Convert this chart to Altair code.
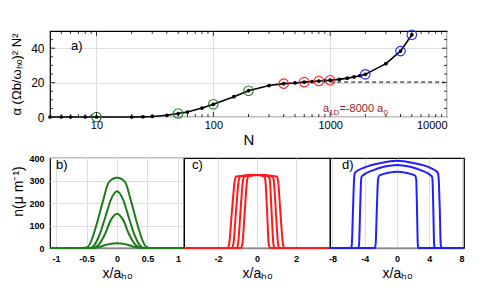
import altair as alt
import pandas as pd

# ---------------- panel a data ----------------
N_line = [4, 5, 6, 8, 10, 20, 25, 30, 40, 50, 60, 80, 100, 150, 200, 300, 400, 500,
          600, 700, 800, 900, 1000, 1200, 1400, 1600, 1800, 2000, 3000, 4000, 5000]
V_line = [0, 0, 0, 0, 0, 0, 0.1, 0.3, 1.0, 2.0, 2.9, 5.2, 7.4, 11.8, 15.3, 18.3, 19.4, 19.8,
          20.3, 20.6, 20.9, 21.1, 21.4, 21.9, 22.6, 23.3, 24.0, 24.8, 31.0, 38.3, 47.8]
N_green = [10, 50, 100, 200]
V_green = [0.0, 2.0, 7.4, 15.3]
N_red = [400, 600, 800, 1000]
V_red = [19.4, 20.3, 20.9, 21.4]
N_blue = [2000, 4000, 5000]
V_blue = [24.8, 38.3, 47.8]
N_dash = [1000, 9500]
V_dash = [20.3, 20.3]
a_xticks = [10, 100, 1000, 10000]
a_yticks = [0, 20, 40]
a_minor_x = [5, 6, 7, 8, 9, 20, 30, 40, 50, 60, 70, 80, 90, 200, 300, 400, 500, 600, 700,
             800, 900, 2000, 3000, 4000, 5000, 6000, 7000, 8000, 9000]
a_major_x = [10, 100, 1000]
a_minor_y = [5, 10, 15, 25, 30, 35, 45]
a_major_y = [20, 40]

# ---------------- panel b data (green) ----------------
b1_x = [-1.1, -0.55, -0.48, -0.41, -0.34, -0.235, -0.13, 0, 0.13, 0.235, 0.34, 0.41, 0.48, 0.55, 1.1]
b1_y = [0, 0, 5, 40, 100, 204, 294, 312, 294, 204, 100, 40, 5, 0, 0]
b2_x = [-1.1, -0.45, -0.38, -0.3, -0.2, -0.1, 0, 0.1, 0.2, 0.3, 0.38, 0.45, 1.1]
b2_y = [0, 0, 10, 50, 130, 215, 252, 215, 130, 50, 10, 0, 0]
b3_x = [-1.1, -0.4, -0.3, -0.2, -0.1, 0, 0.1, 0.2, 0.3, 0.4, 1.1]
b3_y = [0, 0, 15, 60, 125, 152, 125, 60, 15, 0, 0]
b4_x = [-1.1, -0.4, -0.3, -0.2, -0.1, 0, 0.1, 0.2, 0.3, 0.4, 1.1]
b4_y = [0, 0, 4, 12, 19, 21, 19, 12, 4, 0, 0]

# ---------------- panel c data (red) ----------------
c_y = [0, 0, 20, 160, 300, 318, 324, 318, 300, 160, 20, 0, 0]
c1_x = [-3.75, -1.50, -1.43, -1.29, -1.14, -1.07, 0, 1.02, 1.08, 1.20, 1.33, 1.39, 3.75]
c2_x = [-3.75, -1.28, -1.21, -1.08, -0.94, -0.87, 0, 0.80, 0.86, 0.97, 1.08, 1.14, 3.75]
c3_x = [-3.75, -1.04, -0.97, -0.85, -0.72, -0.65, 0, 0.60, 0.66, 0.75, 0.84, 0.90, 3.75]
c4_x = [-3.75, -0.82, -0.75, -0.63, -0.51, -0.44, 0, 0.37, 0.43, 0.52, 0.60, 0.66, 3.75]

# ---------------- panel d data (blue) ----------------
d1_x = [-8.3, -5.7, -5.6, -5.45, -5.3, -5.2, -4, -2, 0, 2, 4, 5.05, 5.15, 5.3, 5.42, 5.52, 8.3]
d1_y = [0, 0, 15, 170, 315, 335, 358, 378, 388, 378, 358, 335, 315, 170, 15, 0, 0]
d2_x = [-8.3, -4.8, -4.7, -4.57, -4.45, -4.37, -3, -1.5, 0, 1.5, 3, 4.33, 4.4, 4.5, 4.6, 4.68, 8.3]
d2_y = [0, 0, 15, 170, 300, 318, 345, 362, 369, 362, 345, 318, 300, 170, 15, 0, 0]
d3_x = [-8.3, -2.75, -2.65, -2.5, -2.35, -2.2, -1, 0, 1, 2.25, 2.38, 2.48, 2.58, 2.66, 8.3]
d3_y = [0, 0, 15, 170, 305, 322, 335, 339, 335, 322, 305, 170, 15, 0, 0]

FONT = "Liberation Sans"
GREEN = "#1e7b1e"
RED = "#ff1a1a"
BLUE = "#1f1fff"
MINUS_FIX = "replace(datum.label, '\u2212', '-')"

# ---------------- panel a ----------------
W_A, H_A = 397, 86
xs = alt.Scale(type="log", domain=[4, 10000], nice=False)
ys = alt.Scale(domain=[0, 50], nice=False, zero=False)

line_df = pd.DataFrame({"N": N_line, "v": V_line})
xa = alt.X("N:Q", scale=xs, axis=alt.Axis(values=a_xticks, format="d", title="N", ticks=False,
                                          domain=False, labelFontSize=11, labelPadding=2,
                                          titleFontSize=15, titleFontWeight="normal", titlePadding=2,
                                          labelFont=FONT, titleFont=FONT))
ya = alt.Y("v:Q", scale=ys, axis=alt.Axis(values=a_yticks, title="α (Ωb/ωₕₒ)² N²", ticks=False,
                                          domain=False, labelFontSize=12, labelPadding=6,
                                          titleFontSize=13, titleFontWeight="normal", titlePadding=7,
                                          labelFont=FONT, titleFont=FONT))
xn = alt.X("N:Q", scale=xs)
yn = alt.Y("v:Q", scale=ys)

line_a = alt.Chart(line_df).mark_line(color="black", strokeWidth=1.6).encode(x=xa, y=ya)
dots_a = alt.Chart(line_df).mark_circle(color="black", size=14, opacity=1).encode(x=xn, y=yn)
dash_a = alt.Chart(pd.DataFrame({"N": N_dash, "v": V_dash})).mark_line(
    color="black", strokeWidth=1, strokeDash=[4, 3]).encode(x=xn, y=yn)


def rings(ns, vs, color):
    return alt.Chart(pd.DataFrame({"N": ns, "v": vs})).mark_point(
        shape="circle", filled=False, size=90, strokeWidth=1.1, color=color, opacity=1
    ).encode(x=xn, y=yn)


def xtick_rules(vals, length):
    df = pd.DataFrame({"N": vals})
    top = alt.Chart(df).mark_rule(color="black", strokeWidth=0.8).encode(
        x=xn, y=alt.value(0), y2=alt.value(length))
    bot = alt.Chart(df).mark_rule(color="black", strokeWidth=0.8).encode(
        x=xn, y=alt.value(H_A), y2=alt.value(H_A - length))
    return [top, bot]


def ytick_rules(vals, length):
    df = pd.DataFrame({"v": vals})
    left = alt.Chart(df).mark_rule(color="black", strokeWidth=0.8).encode(
        y=yn, x=alt.value(0), x2=alt.value(length))
    right = alt.Chart(df).mark_rule(color="black", strokeWidth=0.8).encode(
        y=yn, x=alt.value(W_A), x2=alt.value(W_A - length))
    return [left, right]


label_a = alt.Chart(pd.DataFrame({"t": ["a)"]})).mark_text(
    font=FONT, fontSize=13, align="left", baseline="middle", color="black"
).encode(text="t:N", x=alt.value(21), y=alt.value(15))

ann_color = "#9b1c22"
ann_parts = [("a", 11, 0, 0), ("1D", 8, 6, 3), ("=-8000 a", 11, 16.5, 0), ("0", 8, 60.5, 3)]
ann_layers = []
for txt, fs, dx, dy in ann_parts:
    ann_layers.append(
        alt.Chart(pd.DataFrame({"t": [txt]})).mark_text(
            font=FONT, fontSize=fs, align="left", baseline="alphabetic", color=ann_color,
            dx=dx, dy=dy
        ).encode(text="t:N", x=alt.value(273), y=alt.value(81))
    )

top = alt.layer(
    line_a, dash_a, dots_a,
    rings(N_green, V_green, GREEN), rings(N_red, V_red, RED), rings(N_blue, V_blue, BLUE),
    *xtick_rules(a_minor_x, 3), *xtick_rules(a_major_x, 5),
    *ytick_rules(a_minor_y, 3), *ytick_rules(a_major_y, 5),
    label_a, *ann_layers
).properties(width=W_A, height=H_A)

# ---------------- bottom panels ----------------
H_B = 90


def curves_df(pairs):
    rows = []
    for k, (xx, yy) in enumerate(pairs):
        for i, (a, b) in enumerate(zip(xx, yy)):
            rows.append({"x": a, "y": b, "k": k, "i": i})
    return pd.DataFrame(rows)


def panel(pairs, color, xdom, xvals, width, label, label_x, show_y):
    df = curves_df(pairs)
    xax = alt.Axis(values=xvals, title="x/aₕₒ", ticks=False, domainColor="#888888",
                   domainWidth=1.5, labelFontSize=9, labelFontWeight="bold", labelPadding=6,
                   titleFontSize=14, titleFontWeight="normal", titlePadding=3, format="~g",
                   labelFont=FONT, titleFont=FONT, labelExpr=MINUS_FIX, labelFlush=False)
    if show_y:
        yax = alt.Axis(values=[0, 100, 200, 300, 400], title="n(μ m⁻¹)", ticks=False,
                       domain=False, labelFontSize=9, labelFontWeight="bold", labelPadding=6,
                       titleFontSize=14, titleFontWeight="normal", titlePadding=3,
                       labelFont=FONT, titleFont=FONT, titleY=33)
    else:
        yax = None
    lines = alt.Chart(df).mark_line(color=color, strokeWidth=2, interpolate="monotone").encode(
        x=alt.X("x:Q", scale=alt.Scale(domain=xdom, nice=False, zero=False), axis=xax),
        y=alt.Y("y:Q", scale=alt.Scale(domain=[0, 400], nice=False), axis=yax),
        detail="k:N",
        order="i:Q",
    )
    lab = alt.Chart(pd.DataFrame({"t": [label]})).mark_text(
        font=FONT, fontSize=13, align="left", baseline="middle", color="black"
    ).encode(text="t:N", x=alt.value(label_x), y=alt.value(7))
    return alt.layer(lines, lab).properties(width=width, height=H_B)


pb = panel([(b1_x, b1_y), (b2_x, b2_y), (b3_x, b3_y), (b4_x, b4_y)], GREEN,
           [-1.1, 1.1], [-1, -0.5, 0, 0.5, 1], 134, "b)", 6, True)
pc = panel([(c1_x, c_y), (c2_x, c_y), (c3_x, c_y), (c4_x, c_y)], RED,
           [-3.75, 3.75], [-2, 0, 2], 146, "c)", 8, False)
pd_ = panel([(d1_x, d1_y), (d2_x, d2_y), (d3_x, d3_y)], BLUE,
            [-8.3, 8.3], [-8, -4, 0, 4, 8], 134, "d)", 12, False)

bottom = alt.hconcat(pb, pc, pd_, spacing=0, bounds="flush")

chart = alt.vconcat(top, bottom, spacing=41, bounds="flush").properties(
    padding={"left": 2, "top": 19, "right": 5, "bottom": 2}
).configure_view(stroke="black", strokeWidth=1.2)

chart.save("out.html", embed_options={"renderer": "svg", "actions": False})
